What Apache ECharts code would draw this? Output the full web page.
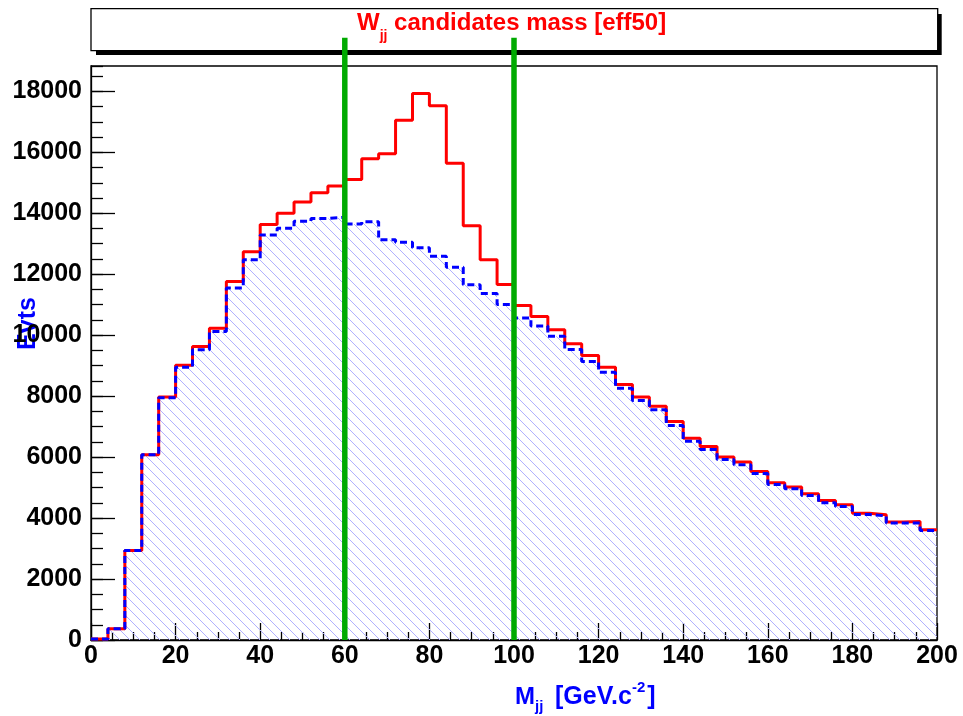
<!DOCTYPE html>
<html><head><meta charset="utf-8">
<script src="https://cdn.jsdelivr.net/npm/echarts@6/dist/echarts.min.js"></script>
<style>html,body{margin:0;padding:0;background:#fff}#c{width:963px;height:716px}</style>
</head><body><div id="c"></div>
<script>
// ---- data ----
const binLow = [0,4,8,12,16,20,24,28,32,36,40,44,48,52,56,60,64,68,72,76,80,84,88,92,96,
                100,104,108,112,116,120,124,128,132,136,140,144,148,152,156,160,164,168,172,176,180,184,188,192,196];
const xMax = 200;
const signalPlusBkg = [30,370,2940,6080,7970,9010,9630,10230,11760,12740,13630,14000,14370,14670,14890,
  15110,15790,15950,17050,17930,17530,15640,13590,12470,11660,10970,10610,10180,9720,9330,
  8950,8380,7970,7670,7170,6620,6350,6000,5840,5530,5160,5020,4800,4580,4440,4160,4110,3870,3890,3620];
const background = [30,370,2940,6080,7950,8950,9520,10120,11550,12470,13290,13510,13740,13830,13870,
  13650,13720,13130,13050,12870,12590,12230,11650,11370,11010,10560,10300,9965,9530,9140,
  8780,8260,7860,7550,7040,6520,6250,5920,5750,5460,5100,4960,4740,4500,4380,4120,4070,3840,3840,3590];
const cutValues = [60, 100];
const cutLineTop = 19760;
const yMax = 18830;
const xTickStep = 20;
const yTickStep = 2000;
const yMinorStep = 500;

// ---- helpers ----
function histData(vals){
  const d = binLow.map((x,i)=>[x, vals[i]]);
  d.push([xMax, vals[vals.length-1]]);
  return d;
}
function hatchPattern(){
  const s = 10;
  const c = document.createElement('canvas');
  c.width = s; c.height = s;
  const g = c.getContext('2d');
  g.strokeStyle = '#b0b0ff';
  g.lineWidth = 1;
  for (const k of [-s, 0, s]) {
    g.beginPath(); g.moveTo(k, 0); g.lineTo(k + s, s); g.stroke();
  }
  return c;
}
const mctx = document.createElement('canvas').getContext('2d');
const FF = '"Liberation Sans", Arial, sans-serif';
function tw(text, size){ mctx.font = 'bold ' + size + 'px ' + FF; return mctx.measureText(text).width; }
// parts: {text,size,dy,gap,x}
function composite(parts, x0, yMid, color){
  let x = x0; const els = [];
  for (const p of parts){
    if (p.x !== undefined) x = p.x;
    x += (p.gap||0);
    els.push({type:'text', x:x, y:yMid + (p.dy||0), z:30,
      style:{text:p.text, fill:color, font:'bold ' + p.size + 'px ' + FF, align:'left', verticalAlign:'middle'}});
    x += tw(p.text, p.size);
  }
  return els;
}

const chart = echarts.init(document.getElementById('c'), null, {renderer:'canvas'});
const labelStyle = {fontFamily:FF, fontWeight:'bold', fontSize:25, color:'#000'};

const graphics = [
  {type:'rect', z:1, shape:{x:96, y:14, width:845.7, height:41}, style:{fill:'#000'}},
  {type:'rect', z:2, shape:{x:91, y:8.7, width:846.7, height:42}, style:{fill:'#fff', stroke:'#000', lineWidth:1.3}},
  ...composite([
    {text:'W', size:24},
    {text:'jj', size:14, dy:13},
    {text:' candidates mass [eff50]', size:24}
  ], 357, 23, '#ff0000'),
  ...composite([
    {text:'M', size:24, x:515},
    {text:'jj', size:15, dy:10, x:535},
    {text:'[GeV.c', size:25, x:555},
    {text:'-2', size:15, dy:-9},
    {text:']', size:25, gap:2}
  ], 515, 697, '#0000ff'),
  {type:'text', x:28, y:323.5, rotation:Math.PI/2, z:-1,
    style:{text:'Evts', fill:'#0000ff', font:'bold 25px ' + FF, align:'center', verticalAlign:'middle'}}
];

const option = {
  animation:false,
  backgroundColor:'#fff',
  grid:{left:91, top:66, right:26, bottom:76, show:true, borderColor:'#000', borderWidth:1.3, backgroundColor:'transparent'},
  xAxis:{type:'value', min:0, max:xMax, interval:xTickStep,
    axisLine:{show:true, lineStyle:{color:'#000', width:1.3}},
    axisTick:{show:true, inside:true, length:17, lineStyle:{color:'#000', width:1.3}},
    minorTick:{show:true, splitNumber:4, length:8, lineStyle:{color:'#000', width:1.3}},
    splitLine:{show:false}, minorSplitLine:{show:false},
    axisLabel:{...labelStyle, margin:4, formatter:v=>String(v)}
  },
  yAxis:[
    {type:'value', min:0, max:yMax, interval:yTickStep,
      axisLine:{show:true, lineStyle:{color:'#000', width:1.3}},
      axisTick:{show:true, inside:true, length:24, lineStyle:{color:'#000', width:1.3}},
      splitLine:{show:false},
      axisLabel:{...labelStyle, margin:9, showMaxLabel:false, formatter:v=>String(v)}
    },
    {type:'value', position:'left', min:0, max:yMax, interval:yMinorStep,
      axisLine:{show:false}, axisLabel:{show:false}, splitLine:{show:false},
      axisTick:{show:true, inside:true, length:12, lineStyle:{color:'#000', width:1.3}}
    }
  ],
  graphic: graphics,
  series:[
    {type:'line', name:'bkg-fill', step:'end', symbol:'none', data:histData(background), z:2,
      lineStyle:{width:0, opacity:0}, areaStyle:{color:{image:hatchPattern(), repeat:'repeat'}, opacity:1}},
    {type:'line', name:'total', step:'end', symbol:'none', data:histData(signalPlusBkg), z:3,
      lineStyle:{color:'#ff0000', width:3}},
    {type:'line', name:'bkg', step:'end', symbol:'none', data:histData(background), z:4,
      lineStyle:{color:'#0000ff', width:3, type:[7,4]}},
    {type:'custom', name:'cuts', coordinateSystem:'cartesian2d', clip:false, z:40,
      data: cutValues.map(v=>[v, 0]),
      renderItem:function(params, api){
        const x = api.value(0);
        const p0 = api.coord([x, 0]);
        const p1 = api.coord([x, cutLineTop]);
        return {type:'line', shape:{x1:p0[0], y1:p0[1], x2:p1[0], y2:p1[1]},
          style:{stroke:'#00aa00', lineWidth:5.5}};
      }
    }
  ]
};
chart.setOption(option);
</script>
</body></html>
